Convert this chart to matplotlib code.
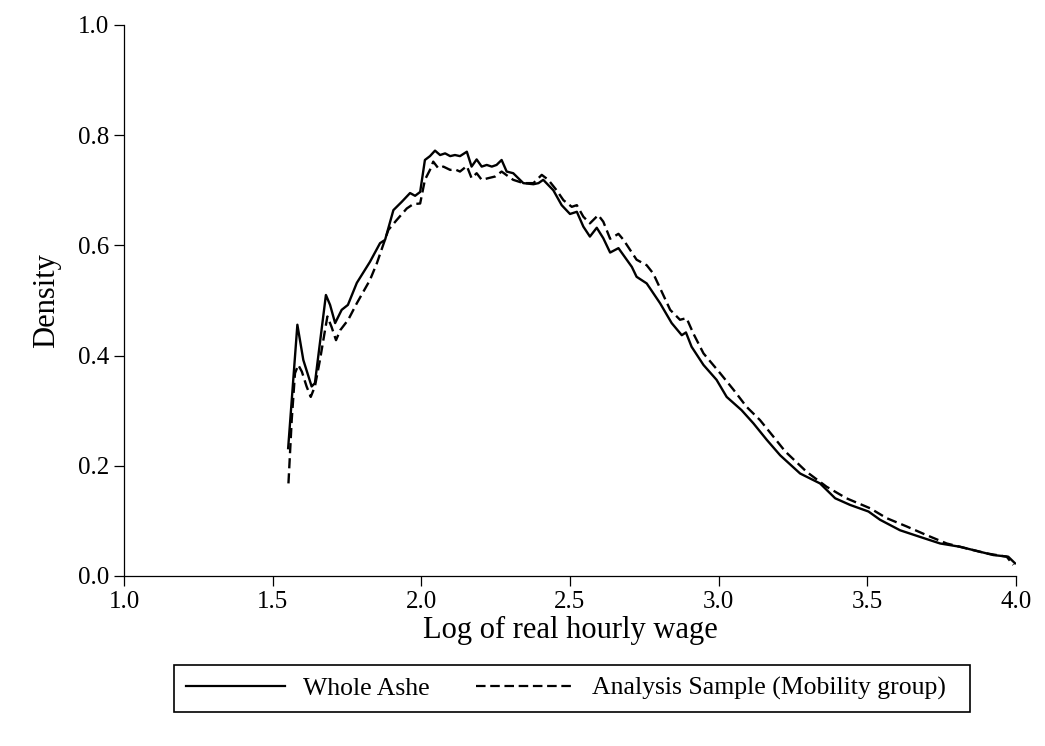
import matplotlib
matplotlib.use('Agg')
import matplotlib.pyplot as plt
from matplotlib.patches import Rectangle

'''data read off the reference'''
whole_x = [1.552, 1.583, 1.603, 1.631, 1.642, 1.679, 1.693, 1.71, 1.732, 1.753,
           1.783, 1.827, 1.861, 1.878, 1.906, 1.934, 1.962, 1.979, 1.996, 2.012,
           2.029, 2.046, 2.063, 2.08, 2.097, 2.113, 2.13, 2.153, 2.169, 2.186,
           2.203, 2.22, 2.237, 2.253, 2.27, 2.287, 2.309, 2.343, 2.377, 2.394,
           2.41, 2.444, 2.472, 2.5, 2.523, 2.545, 2.567, 2.59, 2.612, 2.635,
           2.663, 2.708, 2.724, 2.758, 2.803, 2.842, 2.876, 2.89, 2.909, 2.949,
           2.993, 3.027, 3.077, 3.117, 3.162, 3.207, 3.274, 3.341, 3.392, 3.442,
           3.504, 3.543, 3.61, 3.677, 3.745, 3.812, 3.879, 3.924, 3.974, 3.997]
whole_y = [0.232, 0.456, 0.392, 0.344, 0.35, 0.51, 0.492, 0.459, 0.483, 0.492,
           0.532, 0.57, 0.604, 0.61, 0.664, 0.679, 0.695, 0.69, 0.697, 0.755,
           0.762, 0.772, 0.764, 0.767, 0.762, 0.764, 0.762, 0.77, 0.743, 0.756,
           0.743, 0.746, 0.743, 0.746, 0.755, 0.734, 0.731, 0.713, 0.711, 0.713,
           0.719, 0.70, 0.673, 0.657, 0.661, 0.634, 0.616, 0.632, 0.613, 0.587,
           0.595, 0.561, 0.543, 0.531, 0.495, 0.459, 0.437, 0.442, 0.416, 0.383,
           0.356, 0.325, 0.301, 0.277, 0.247, 0.219, 0.186, 0.168, 0.141, 0.129,
           0.117, 0.102, 0.083, 0.071, 0.059, 0.053, 0.044, 0.038, 0.035, 0.023]

sample_x = [1.553, 1.564, 1.575, 1.586, 1.598, 1.614, 1.628, 1.642, 1.659, 1.676,
            1.684, 1.698, 1.713, 1.727, 1.754, 1.783, 1.827, 1.85, 1.889, 1.917,
            1.951, 1.973, 1.996, 2.012, 2.029, 2.04, 2.057, 2.074, 2.097, 2.113,
            2.13, 2.153, 2.169, 2.186, 2.203, 2.225, 2.248, 2.27, 2.293, 2.309,
            2.343, 2.377, 2.405, 2.427, 2.455, 2.478, 2.506, 2.523, 2.545, 2.567,
            2.595, 2.612, 2.635, 2.663, 2.68, 2.724, 2.758, 2.78, 2.837, 2.87,
            2.892, 2.915, 2.949, 3.005, 3.05, 3.094, 3.139, 3.184, 3.224, 3.296,
            3.363, 3.43, 3.509, 3.565, 3.632, 3.70, 3.767, 3.834, 3.901, 3.969,
            3.991]
sample_y = [0.168, 0.283, 0.368, 0.383, 0.371, 0.344, 0.325, 0.344, 0.392, 0.446,
            0.471, 0.452, 0.428, 0.446, 0.465, 0.495, 0.537, 0.567, 0.628, 0.646,
            0.667, 0.675, 0.676, 0.719, 0.737, 0.752, 0.74, 0.743, 0.737, 0.738,
            0.734, 0.744, 0.722, 0.731, 0.719, 0.722, 0.725, 0.734, 0.725, 0.719,
            0.713, 0.713, 0.728, 0.719, 0.70, 0.682, 0.670, 0.673, 0.652, 0.640,
            0.655, 0.643, 0.612, 0.621, 0.61, 0.574, 0.564, 0.549, 0.483, 0.465,
            0.468, 0.440, 0.404, 0.368, 0.338, 0.307, 0.283, 0.253, 0.226, 0.189,
            0.162, 0.141, 0.123, 0.105, 0.090, 0.074, 0.059, 0.050, 0.041, 0.035,
            0.020]

x_ticks = [1.0, 1.5, 2.0, 2.5, 3.0, 3.5, 4.0]
y_ticks = [0.0, 0.2, 0.4, 0.6, 0.8, 1.0]

'''plotting'''
plt.rcParams['font.family'] = ['Liberation Serif', 'DejaVu Serif']

fig = plt.figure(figsize=(10.45, 7.46), dpi=100)
ax = fig.add_axes([0.1187, 0.2279, 0.8535, 0.7386])

line1, = ax.plot(whole_x, whole_y, color='black', lw=1.7, label='Whole Ashe')
line2, = ax.plot(sample_x, sample_y, color='black', lw=1.7, ls=(0, (4.3, 2.1)),
                 label='Analysis Sample (Mobility group)')

ax.set_xlim(1.0, 4.0)
ax.set_ylim(0.0, 1.0)
ax.set_xticks(x_ticks)
ax.set_yticks(y_ticks)
ax.set_xticklabels(['%.1f' % t for t in x_ticks])
ax.set_yticklabels(['%.1f' % t for t in y_ticks])
ax.tick_params(direction='out', length=7, width=0.9, labelsize=18, pad=4, color='black')
for side in ['top', 'right']:
    ax.spines[side].set_visible(False)
for side in ['left', 'bottom']:
    ax.spines[side].set_linewidth(0.9)

ax.set_xlabel('Log of real hourly wage', fontsize=22, labelpad=2)
ax.set_ylabel('Density', fontsize=22, labelpad=12)

# legend box below the plot
fig.patches.append(Rectangle((174/1045, 1-712/746), 796/1045, 47/746,
                             transform=fig.transFigure, fill=False,
                             edgecolor='black', lw=1.2))
leg = fig.legend([line1, line2], ['Whole Ashe', 'Analysis Sample (Mobility group)'],
                 loc='center left', bbox_to_anchor=(186/1045, 1-688.5/746),
                 ncol=2, frameon=False, fontsize=18.5, handlelength=3.85,
                 handletextpad=0.69, columnspacing=1.8, borderpad=0.0,
                 borderaxespad=0.0)
for h in leg.legend_handles:
    h.set_linewidth(1.6)

fig.savefig('out.png', dpi=100, facecolor='white')
